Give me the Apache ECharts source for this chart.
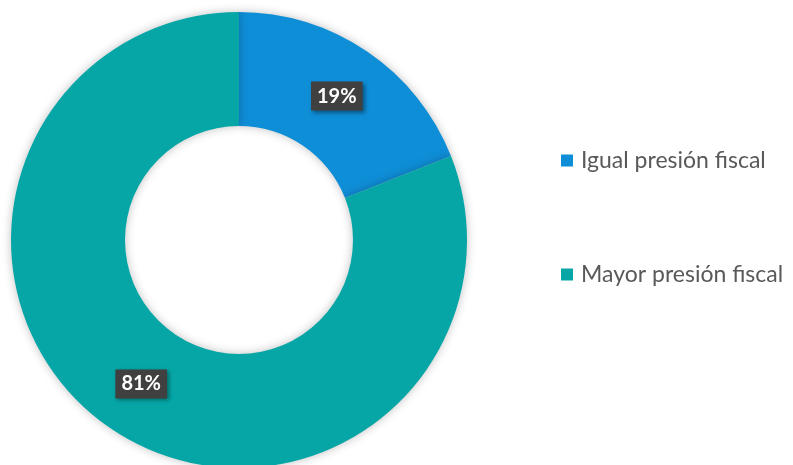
<!DOCTYPE html>
<html><head><meta charset="utf-8">
<script src="https://cdn.jsdelivr.net/npm/echarts@6/dist/echarts.min.js"></script>
<style>html,body{margin:0;padding:0;background:#fff}#c{width:793px;height:465px}</style>
</head><body><div id="c"></div>
<script>
const categories = ['Igual presión fiscal', 'Mayor presión fiscal'];
const values = [19, 81];
const colors = ['#0f8ed8', '#06a6a6'];

const chart = echarts.init(document.getElementById('c'));
chart.setOption({
  animation: false,
  color: colors,
  legend: {
    orient: 'vertical',
    left: 561,
    top: 149,
    padding: 0,
    itemWidth: 12,
    itemHeight: 12,
    itemGap: 91,
    icon: 'rect',
    textStyle: { fontFamily: 'Lato', fontSize: 23, color: '#595959', padding: [0, 0, 0, 3] },
    data: categories
  },
  series: [{
    type: 'pie',
    center: [239, 240],
    radius: [114, 228],
    startAngle: 90,
    clockwise: true,
    avoidLabelOverlap: false,
    itemStyle: { shadowBlur: 10, shadowColor: 'rgba(0,0,0,0.25)' },
    label: {
      show: true,
      position: 'inside',
      formatter: '{c}%',
      color: '#fff',
      fontFamily: 'Lato',
      fontWeight: 'bold',
      fontSize: 20,
      backgroundColor: '#404040',
      padding: [5, 6, 4, 6],
      shadowBlur: 4,
      shadowColor: 'rgba(0,0,0,0.4)',
      shadowOffsetX: 2,
      shadowOffsetY: 2
    },
    labelLine: { show: false },
    emphasis: { disabled: true },
    data: categories.map((n, i) => ({ name: n, value: values[i] }))
  }]
});
</script></body></html>
